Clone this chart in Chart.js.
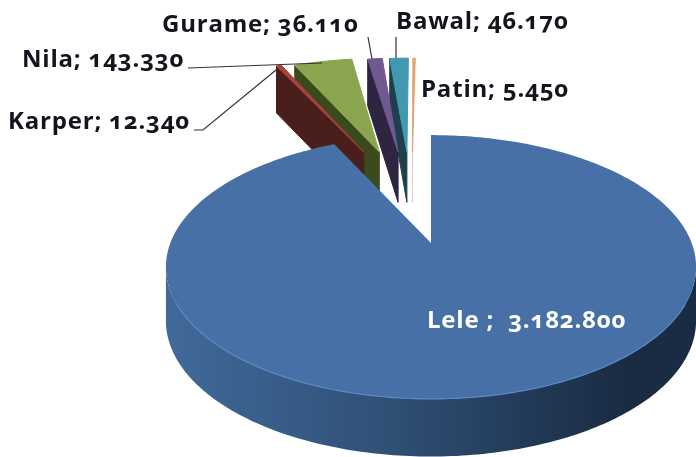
<!DOCTYPE html>
<html>
  <head>
    <title>Produksi ikan</title>
    <script src="https://cdn.jsdelivr.net/npm/chart.js@4"></script>
    <style>
      html, body { margin: 0; background: #fff; }
      canvas { display: block; font-feature-settings: "onum" 1; font-variant-numeric: oldstyle-nums; filter: blur(0.4px); }
    </style>
  </head>
  <body>
    <canvas id="myChart" width="696" height="457"></canvas>
    <script>
      const categories = ['Lele', 'Karper', 'Nila', 'Gurame', 'Bawal', 'Patin'];
      const values = [3182800, 12340, 143330, 36110, 46170, 5450];
      const topColors = ['#4670a6', '#a8423f', '#89a54e', '#71588f', '#4198af', '#e8a468'];
      const wallColors = ['#2c4a70', '#4a1e1a', '#3b4a1c', '#2e2540', '#1e3f4c', '#ddd2c8'];
      const labelSpots = [[427, 328], [8, 129], [22, 67], [162, 32], [396, 29], [421, 97]];
      const leaders = [
        [[188, 68], [322, 63]],
        [[194, 130], [203, 130], [276, 70]],
        [[368, 37], [372, 59]],
        [[396, 37], [396, 58]]
      ];

      // pie plane is tilted: squash + a bit of perspective, nearer part looks bigger
      const SX = 1.218, SY = 0.596, PERSP = 0.182;
      const DEPTH = 53, DEPTH_PERSP = 0.08;

      function project(arc, angle, frac, exploded, midAngle) {
        const u = frac * Math.cos(angle), v = frac * Math.sin(angle);
        const d = 1 - PERSP * v;
        let x = arc.x + arc.outerRadius * SX * u / d;
        let y = arc.y + arc.outerRadius * SY * v / d;
        if (exploded) {
          // pulled slices move up and to the left
          const side = Math.cos(midAngle);
          x += (-18 + 117 * side) / d;
          y += -91 / d;
        }
        return { x, y, z: (exploded ? 0.95 : 1) * DEPTH / (1 - DEPTH_PERSP * v) };
      }

      function fillPath(ctx, pts, fill, line) {
        ctx.beginPath();
        pts.forEach((p, i) => i ? ctx.lineTo(p.x, p.y) : ctx.moveTo(p.x, p.y));
        ctx.closePath();
        ctx.fillStyle = fill;
        ctx.fill();
        if (line) {
          ctx.strokeStyle = line;
          ctx.lineWidth = 1;
          ctx.stroke();
        }
      }

      function outerPoints(arc, exploded, mid) {
        const n = Math.max(2, Math.ceil((arc.endAngle - arc.startAngle) * 60));
        const pts = [];
        for (let i = 0; i <= n; i++) {
          const a = arc.startAngle + (arc.endAngle - arc.startAngle) * i / n;
          pts.push(project(arc, a, 1, exploded, mid));
        }
        return pts;
      }

      const pie3d = {
        id: 'pie3d',
        beforeDatasetsDraw(chart) {
          const ctx = chart.ctx;
          const arcs = chart.getDatasetMeta(0).data;
          // back to front, Lele last so it hides the feet of the others
          for (let i = arcs.length - 1; i >= 0; i--) {
            const arc = arcs[i];
            const exploded = i > 0;
            const mid = (arc.startAngle + arc.endAngle) / 2;
            const apex = project(arc, 0, 0, exploded, mid);
            const rim = outerPoints(arc, exploded, mid);
            if (exploded) {
              const a = rim[0];
              fillPath(ctx, [apex, a, { x: a.x, y: a.y + a.z }, { x: apex.x, y: apex.y + apex.z }], wallColors[i], wallColors[i]);
            } else {
              const front = rim.filter(p => p.y > apex.y + 24);
              const grad = ctx.createLinearGradient(165, 0, 620, 0);
              grad.addColorStop(0, '#406a9a');
              grad.addColorStop(0.5, '#2f4f75');
              grad.addColorStop(1, '#1a2c44');
              fillPath(ctx, front.concat(front.map(p => ({ x: p.x, y: p.y + p.z })).reverse()), grad);
            }
            fillPath(ctx, [apex].concat(rim), topColors[i], exploded ? topColors[i] : null);
            if (!exploded) {
              const front = rim.filter(p => p.y > apex.y + 60);
              ctx.beginPath();
              front.forEach((p, k) => k ? ctx.lineTo(p.x, p.y) : ctx.moveTo(p.x, p.y));
              ctx.strokeStyle = '#5a8ac6';
              ctx.lineWidth = 1.2;
              ctx.stroke();
            }
          }
          return false;
        },
        afterDraw(chart) {
          const ctx = chart.ctx;
          ctx.strokeStyle = '#333333';
          ctx.lineWidth = 1.2;
          leaders.forEach(line => {
            ctx.beginPath();
            line.forEach((p, i) => i ? ctx.lineTo(p[0], p[1]) : ctx.moveTo(p[0], p[1]));
            ctx.stroke();
          });
          ctx.font = 'bold 24px "Open Sans"';
          ctx.letterSpacing = '0.8px';
          ctx.textBaseline = 'alphabetic';
          categories.forEach((name, i) => {
            const sep = i === 0 ? ' ;  ' : '; ';
            ctx.fillStyle = i === 0 ? '#ffffff' : '#14141e';
            ctx.fillText(name + sep + values[i].toLocaleString('de-DE'), labelSpots[i][0], labelSpots[i][1]);
          });
        }
      };

      const ctx = document.getElementById('myChart').getContext('2d');
      const myChart = new Chart(ctx, {
        type: 'pie',
        data: {
          labels: categories,
          datasets: [{ data: values, backgroundColor: topColors, borderWidth: 0 }]
        },
        options: {
          responsive: false,
          animation: false,
          layout: { padding: { left: 166, top: 29 } },
          plugins: { legend: { display: false }, tooltip: { enabled: false } }
        },
        plugins: [pie3d]
      });
    </script>
  </body>
</html>
